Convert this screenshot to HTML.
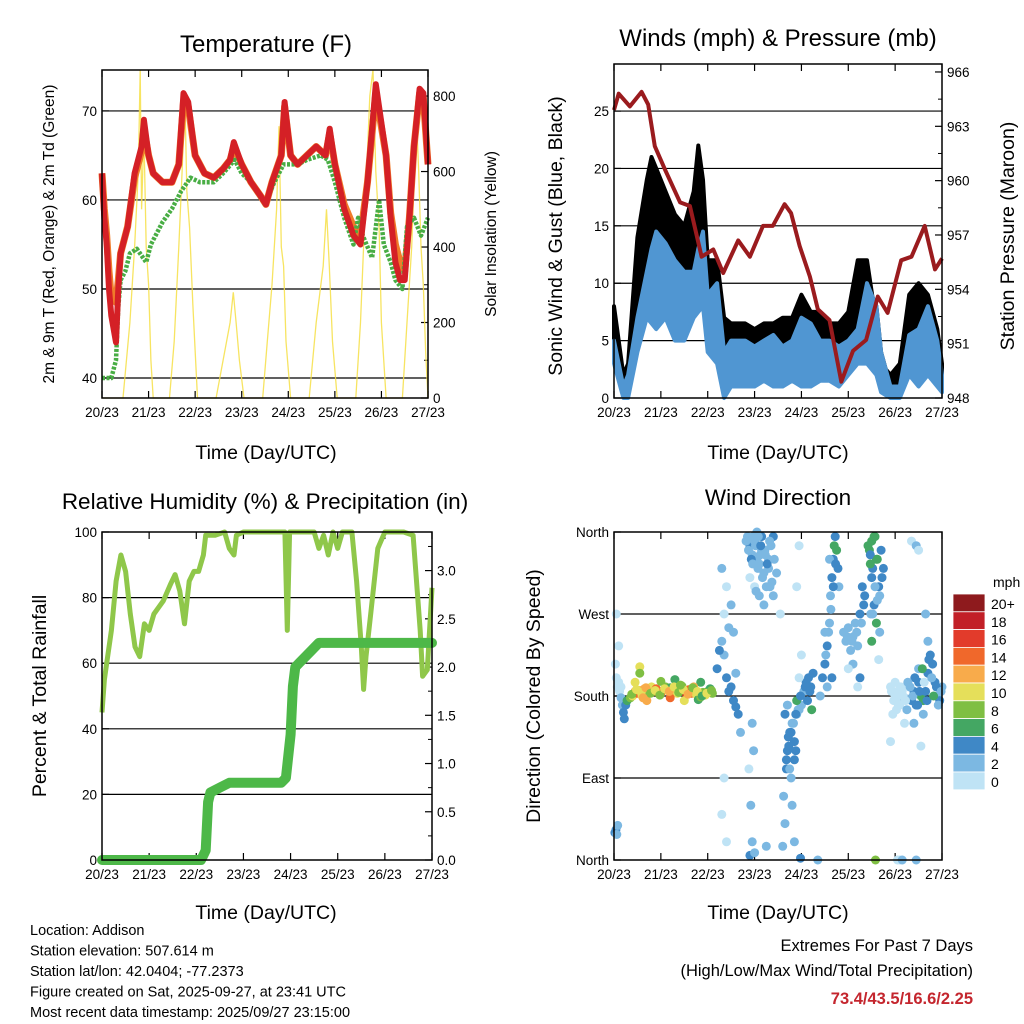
<!DOCTYPE html>
<html><head><meta charset="utf-8"><style>
body{margin:0;background:#fff;}
svg{display:block;font-family:"Liberation Sans",sans-serif;}
</style></head><body>
<svg id="s" width="1024" height="1024" viewBox="0 0 1024 1024"></svg>
<script>
// ---------- DATA ----------
const dayTicks=["20/23","21/23","22/23","23/23","24/23","25/23","26/23","27/23"];
const tempDays=[0,0.05,0.1,0.15,0.2,0.3,0.35,0.4,0.55,0.7,0.85,0.9,1.0,1.1,1.3,1.5,1.65,1.75,1.85,2.0,2.2,2.4,2.6,2.75,2.83,3.0,3.2,3.4,3.52,3.65,3.85,3.92,4.05,4.2,4.4,4.6,4.8,4.89,5.0,5.2,5.4,5.55,5.7,5.8,5.88,6.1,6.2,6.3,6.4,6.5,6.6,6.7,6.82,6.9,7.0];
const tempRed=[63,58,55,50,47,44,50,54,57,63,66,69,65,63,62,62,64,72,71,65,63,62.5,63.5,64.5,66.5,64,62,60.5,59.5,62,65,71,65,64,65,66,65,68,64,59,56,55,62,68,73,65,58,53,51,51,58,66,72.5,72,64];
const tempOrange=[63,59,56,52,49,48.5,51,54,57,62.5,65.5,68,65,63,62,62,64,71,70.5,65,63,62.5,63.5,64.5,66,64,62,60.5,59.5,62,65,70.5,65,64,65,66,65,67.5,64,59.5,57,56,62,67.5,72,65,58.5,55,53,52,58,66,72,71.5,64];
const dewDays=[0,0.2,0.3,0.35,0.4,0.5,0.6,0.75,0.95,1.05,1.3,1.5,1.7,1.9,2.1,2.4,2.6,2.85,3.0,3.2,3.5,3.7,3.9,4.2,4.4,4.7,4.85,5.0,5.2,5.4,5.5,5.6,5.8,5.95,6.05,6.2,6.3,6.45,6.55,6.7,6.85,7.0];
const dewVals=[40,40,42,48,51,52,54,54.5,53,55,57.5,59,61,62.5,62,62,63,64.5,63,62,59.5,62,64,64,64.5,65,64.5,62,58,55,58,56,53.5,60,55,53,51,50,57,58,56,58];
const solarDays=[0,0.1,0.45,0.6,0.7,0.78,0.82,0.85,0.9,0.95,1.0,1.05,1.1,1.45,1.55,1.65,1.72,1.78,1.82,1.88,1.95,2.05,2.45,2.6,2.75,2.82,2.88,2.95,3.05,3.45,3.55,3.65,3.75,3.8,3.85,3.9,3.95,4.05,4.45,4.6,4.75,4.82,4.88,4.95,5.05,5.45,5.55,5.65,5.75,5.82,5.88,5.95,6.0,6.1,6.45,6.55,6.65,6.75,6.8,6.85,6.9,6.95,7.0];
const solarVals=[0,0,0,200,400,600,870,500,700,400,300,100,0,0,150,400,600,800,550,450,250,0,0,100,200,280,200,100,0,0,150,300,500,720,400,350,150,0,0,200,350,500,350,150,0,0,200,500,800,870,600,450,200,0,0,200,400,750,600,400,300,120,0];
const presDays=[0,0.1,0.34,0.59,0.73,0.87,1.09,1.41,1.62,1.87,2.12,2.33,2.65,2.9,3.18,3.39,3.64,3.78,3.96,4.18,4.35,4.6,4.85,5.1,5.38,5.63,5.84,6.13,6.35,6.63,6.85,7.0];
const presVals=[963.9,964.8,964.1,964.9,964.2,961.9,960.6,958.8,958.6,955.8,956.2,954.9,956.7,955.8,957.5,957.5,958.7,958.2,956.4,954.7,952.9,952.3,948.9,950.6,951.2,953.6,952.7,955.6,955.8,957.5,955.1,955.7];
const windDays=[0,0.2,0.3,0.5,0.7,0.8,0.9,1.1,1.3,1.5,1.7,1.8,1.9,2.0,2.2,2.35,2.5,2.8,3.0,3.2,3.4,3.6,3.8,4.0,4.2,4.4,4.6,4.8,5.0,5.2,5.4,5.6,5.7,5.9,6.1,6.3,6.5,6.7,6.9,7.0];
const windHigh=[5,1,2,7,11,13,14.5,13.5,12,11,11,13,14.5,9,10,4,5,5,4.5,5,5.5,4.5,5,7,6.5,5,5,4.5,5,6,10,8,4,1,1,5.5,6,8,5,2];
const windLow=[3,0,0,4,7,6.5,6,7,5,5,7,7.5,8,4,3,0,1,1,1,1.5,1,1,1.5,1,1,1.5,1.5,1,2,3,3,2,0.5,0,0,2,1,2,1,0.5];
const gustHigh=[8,2,3,14,19,21,20,18,16,15,18,22,19,12,12,7,6.5,6.5,6,6.5,6.5,7,7,9,7.5,7.5,6.5,6.5,7.5,12,12,6.5,3,2,3,9,10,9,6,3];
const rhDays=[0,0.05,0.1,0.2,0.3,0.4,0.5,0.6,0.7,0.8,0.9,1.0,1.1,1.2,1.3,1.45,1.55,1.65,1.75,1.85,1.95,2.05,2.15,2.2,2.4,2.6,2.7,2.8,2.85,3.0,3.5,3.88,3.93,3.98,4.5,4.6,4.7,4.8,4.9,5.0,5.1,5.3,5.4,5.5,5.55,5.6,5.7,5.85,6.0,6.4,6.6,6.75,6.8,6.9,7.0];
const rhVals=[45,55,60,70,85,93,88,75,65,62,72,70,75,77,79,84,87,82,72,85,88,88,93,99,99,100,95,93,99,100,100,100,70,100,100,95,99,93,100,95,100,100,85,65,52,62,75,95,100,100,99,70,56,58,83];
const rainDays=[0,2.1,2.15,2.2,2.25,2.3,2.5,2.7,3.8,3.9,4.0,4.05,4.1,4.2,4.4,4.6,7.0];
const rainVals=[0,0,0.05,0.1,0.6,0.7,0.75,0.8,0.8,0.85,1.3,1.8,2.0,2.05,2.15,2.25,2.25];
const dirDays=[0.02,0.04,0.06,0.08,0.03,0.05,0.07,0.1,0.12,0.15,0.18,0.2,0.22,0.25,0.28,0.1,0.05,0.15,
0.35,0.4,0.45,0.5,0.55,0.6,0.65,0.7,0.75,0.8,0.85,0.9,0.95,1.0,1.05,1.1,1.15,1.2,1.25,1.3,1.35,1.4,1.45,1.5,1.55,1.6,1.65,1.7,1.75,1.8,1.85,1.9,1.95,2.0,2.05,2.1,0.45,1.0,0.55,0.55,1.3,1.85,1.7,0.7,1.2,1.5,
2.3,2.35,2.4,2.45,2.5,2.55,2.6,2.65,2.35,2.4,2.3,2.45,2.2,2.25,2.7,2.35,2.3,2.4,2.6,2.55,2.5,
2.85,2.9,2.95,3.0,3.05,3.1,3.15,3.2,3.25,3.3,3.35,3.4,3.0,3.1,3.2,3.3,2.9,2.95,2.98,2.92,2.95,2.9,3.0,2.88,3.25,3.4,3.15,3.05,
3.6,3.65,3.62,3.68,3.7,3.72,3.75,3.8,3.85,3.9,3.95,4.0,4.05,4.1,4.15,4.2,4.25,3.85,3.75,3.8,3.65,3.7,3.9,3.95,3.85,3.9,3.95,3.98,4.22,4.0,3.55,4.35,
4.45,4.5,4.55,4.6,4.62,4.65,4.68,4.7,4.72,4.75,4.78,4.8,4.5,4.6,4.55,4.65,4.4,
4.9,4.95,5.0,5.05,5.1,5.15,5.2,5.25,5.3,5.35,5.1,5.0,5.2,5.25,
5.45,5.5,5.55,5.6,5.65,5.5,5.55,5.6,5.7,5.75,5.5,5.58,5.48,5.65,
5.9,5.95,6.0,6.05,6.1,6.15,6.2,6.25,6.0,5.95,6.1,6.3,6.2,5.9,6.05,6.1,6.15,6.45,6.35,6.45,6.5,
6.35,6.4,6.45,6.5,6.55,6.6,6.65,6.7,6.75,6.8,6.85,6.9,6.95,7.0,6.6,6.5,6.4,6.55,6.65,6.7,
0.38,0.48,0.58,0.68,0.78,0.88,0.98,1.08,1.18,1.28,1.38,1.48,1.58,1.68,1.78,1.88,1.98,2.08,0.62,1.42,
2.82,2.87,2.93,2.97,3.02,3.07,3.12,3.17,3.22,3.27,3.32,3.37,3.42,3.47,3.03,3.13,3.23,3.33,2.96,3.08,
3.68,3.73,3.78,3.83,3.88,3.93,3.78,3.88,3.98,4.08,4.13,4.18,
5.42,5.47,5.52,5.57,5.62,5.67,5.72,5.52,5.57,5.62,5.47,5.67,
6.32,6.38,6.42,6.48,6.52,6.58,6.62,6.68,6.72,6.78,6.82,6.88,6.92,6.98,
5.92,5.97,6.02,6.07,6.12,6.17,6.22,6.27,6.03,6.13,
4.52,4.58,4.63,4.68,4.73,4.98,5.08,5.18,5.28,5.33];
const dirVals=[30,33,28,38,215,200,190,195,185,178,170,162,155,170,175,235,270,190,
178,180,185,183,186,180,188,182,184,190,185,188,184,183,186,190,186,189,185,190,183,186,191,185,182,187,183,186,182,176,179,184,181,185,188,183,195,196,212,205,198,195,190,175,178,175,
240,225,200,185,190,175,168,160,270,300,320,255,210,230,140,90,50,20,205,250,280,
355,345,335,350,330,325,340,315,300,320,345,355,300,290,280,330,310,150,120,60,20,5,8,100,15,290,355,360,
15,40,70,100,120,135,140,150,130,160,165,170,185,195,200,190,205,110,100,60,160,170,175,200,20,300,345,2,165,225,270,0,
200,215,235,260,290,310,330,345,355,340,320,300,250,330,190,200,180,
250,240,255,230,245,260,235,270,300,290,215,210,190,200,
340,350,355,330,300,310,280,260,340,320,240,0,270,220,
190,185,180,175,170,185,178,165,195,160,190,190,150,130,0,0,0,0,350,345,340,
175,185,170,195,180,175,185,205,225,215,195,180,175,190,160,210,150,125,270,240,
182,187,184,189,183,186,181,188,185,190,184,187,182,189,185,180,183,186,178,192,
350,340,330,355,345,320,335,310,340,325,350,305,330,315,295,345,335,300,325,355,
110,125,140,150,120,165,90,160,180,190,175,185,
345,335,320,300,330,290,310,270,355,285,325,250,
190,180,200,170,185,210,195,175,220,200,180,190,170,185,
185,175,180,170,190,180,175,195,165,185,
225,250,275,300,325,245,240,250,260,280];
const dirSpeeds=[4,4,3,2,1,1,1,1,1,2,3,4,4,5,6,1,1,1,
8,10,12,14,13,11,12,10,9,11,12,14,13,12,15,9,10,7,10,8,11,10,9,12,16,15,17,14,10,6,9,8,10,9,7,9,10,8,10,8,6,7,13,12,14,11,
2,3,4,4,5,4,4,4,1,1,2,3,4,4,2,1,1,0,3,2,2,
2,4,3,2,2,3,2,2,2,3,3,4,1,2,2,2,1,2,3,2,3,4,3,1,2,3,4,3,
2,3,2,4,4,5,4,3,4,3,2,2,3,4,4,5,4,5,2,2,4,3,7,1,2,1,1,5,6,1,1,3,
5,4,4,3,3,4,5,6,4,6,4,2,2,3,3,4,3,
2,3,2,2,2,3,2,4,4,4,2,1,1,4,
6,6,7,6,4,4,4,6,4,4,6,8,2,1,
1,0,1,1,1,1,2,3,1,1,1,1,1,1,1,1,2,3,1,2,1,
4,5,4,4,6,6,4,4,4,5,4,3,4,2,2,3,2,1,2,2,
9,11,10,12,8,10,9,11,13,10,8,11,12,9,10,7,10,8,13,9,
3,2,4,2,3,2,3,2,3,4,2,3,2,2,3,4,3,2,3,2,
4,5,4,3,4,3,2,4,5,4,5,4,
6,4,4,2,6,2,4,2,7,3,6,2,
3,2,4,5,4,6,1,5,4,3,6,4,2,3,
1,1,0,1,1,0,1,2,1,1,
3,2,2,4,4,2,2,2,3,4];
const cbLabels=["20+","18","16","14","12","10","8","6","4","2","0"];
const cbColors=["#8e1a1d","#c21f27","#e23b2b","#f0682b","#f8ab4b","#e5df5a","#7fbf43","#44a763","#3f88c6","#7cb8e2","#bfe3f5"];

// ---------- RENDER ----------
const S=document.getElementById('s');const NS="http://www.w3.org/2000/svg";
function el(tag,attrs,parent,text){const e=document.createElementNS(NS,tag);for(const k in attrs)e.setAttribute(k,attrs[k]);if(text!==undefined)e.textContent=text;(parent||S).appendChild(e);return e;}
function scale(d0,d1,r0,r1){return v=>r0+(v-d0)/(d1-d0)*(r1-r0);}
function pathOf(xs,ys,fx,fy){return xs.map((d,i)=>(i?'L':'M')+fx(d).toFixed(1)+','+fy(ys[i]).toFixed(1)).join('');}
function txt(x,y,s,size,anchor,name,extra){const t=el('text',Object.assign({x:x,y:y,'font-size':size,'text-anchor':anchor||'middle',fill:'#000'},extra||{}),S,s);return t;}
function rtxt(x,y,s,size,name){const t=el('text',{x:0,y:0,'font-size':size,'text-anchor':'middle',transform:`translate(${x},${y}) rotate(-90)`},S,s);return t;}

function frame(x0,x1,y0,y1,name){
  const g=el('g',{});
  const fx=scale(0,7,x0,x1);
  dayTicks.forEach((t,i)=>{const x=fx(i);
    el('line',{x1:x,x2:x,y1:y1,y2:y1-7,stroke:'#000','stroke-width':1.2},g);
    el('line',{x1:x,x2:x,y1:y0,y2:y0+7,stroke:'#000','stroke-width':1.2},g);
    const l=el('text',{x:x,y:y1+19,'font-size':13.5,'text-anchor':'middle'},g,t);
    
  });
  return {g,fx};
}
function hgrid(g,vals,fy,x0,x1){vals.forEach(v=>{const y=fy(v);el('line',{x1:x0,x2:x1,y1:y,y2:y,stroke:'#000','stroke-width':1.2},g);});}
function border(x0,x1,y0,y1,name){const r=el('rect',{x:x0,y:y0,width:x1-x0,height:y1-y0,fill:'none',stroke:'#000','stroke-width':1.5});}
function yticks(g,vals,labels,fy,x,side,minor){vals.forEach((v,i)=>{const y=fy(v);
  el('line',{x1:x,x2:x+(side<0?7:-7),y1:y,y2:y,stroke:'#000','stroke-width':1.2},g);
  const l=el('text',{x:side<0?x-5:x+5,y:y+5,'font-size':13.5,'text-anchor':side<0?'end':'start'},g,labels[i]);
  });
  (minor||[]).forEach(v=>{const y=fy(v);el('line',{x1:x,x2:x+(side<0?4:-4),y1:y,y2:y,stroke:'#000','stroke-width':1},g);});
}

// Panel 1: Temperature
(function(){
  const x0=102,x1=428,y0=70,y1=398;
  const {g,fx}=frame(x0,x1,y0,y1,'temperature');
  const fy=scale(37.75,74.6,y1,y0), fs=scale(0,869,y1,y0);
  hgrid(g,[40,50,60,70],fy,x0,x1);
  yticks(g,[40,50,60,70],["40","50","60","70"],fy,x0,-1);
  yticks(g,[0,200,400,600,800],["0","200","400","600","800"],fs,x1,1,[100,300,500,700]);
  let p=el('path',{d:pathOf(solarDays,solarVals,fx,fs),fill:'none',stroke:'#f6df45','stroke-width':1.3,opacity:0.85});
  p=el('path',{d:pathOf(tempDays,tempOrange,fx,fy),fill:'none',stroke:'#f07b2a','stroke-width':7,'stroke-linejoin':'round'});
  p=el('path',{d:pathOf(dewDays,dewVals,fx,fy),fill:'none',stroke:'#48ad44','stroke-width':4.5,'stroke-linejoin':'round','stroke-dasharray':'3 1.5'});
  p=el('path',{d:pathOf(tempDays,tempRed,fx,fy),fill:'none',stroke:'#d42026','stroke-width':6,'stroke-linejoin':'round'});
  border(x0,x1,y0,y1,'temperature');
  txt(266,52,'Temperature (F)',24,'middle','temperature-title');
  txt(266,459,'Time (Day/UTC)',19.5,'middle','temperature-x-title');
  rtxt(54,234,'2m & 9m T (Red, Orange) & 2m Td (Green)',15.5,'temperature-y-title');
  rtxt(496,234,'Solar Insolation (Yellow)',15.5,'solar-y-title');
})();

// Panel 2: Winds
(function(){
  const x0=614,x1=942,y0=64,y1=398;
  const {g,fx}=frame(x0,x1,y0,y1,'winds');
  const fy=scale(0,29.1,y1,y0), fp=scale(948,966.44,y1,y0);
  hgrid(g,[5,10,15,20,25],fy,x0,x1);
  yticks(g,[0,5,10,15,20,25],["0","5","10","15","20","25"],fy,x0,-1);
  yticks(g,[948,951,954,957,960,963,966],["948","951","954","957","960","963","966"],fp,x1,1,[949.5,952.5,955.5,958.5,961.5,964.5]);
  const gustPoly=pathOf(windDays,gustHigh,fx,fy)+windDays.slice().reverse().map((d,i)=>'L'+fx(d).toFixed(1)+','+fy(windHigh[windDays.length-1-i]).toFixed(1)).join('')+'Z';
  let p=el('path',{d:gustPoly,fill:'#000',stroke:'#000','stroke-width':4,'stroke-linejoin':'round'});
  const windPoly=pathOf(windDays,windHigh,fx,fy)+windDays.slice().reverse().map((d,i)=>'L'+fx(d).toFixed(1)+','+fy(windLow[windDays.length-1-i]).toFixed(1)).join('')+'Z';
  p=el('path',{d:windPoly,fill:'#5096d2',stroke:'#5096d2','stroke-width':4,'stroke-linejoin':'round'});
  p=el('path',{d:pathOf(presDays,presVals,fx,fp),fill:'none',stroke:'#9a1b1e','stroke-width':4,'stroke-linejoin':'round'});
  border(x0,x1,y0,y1,'winds');
  txt(778,46,'Winds (mph) & Pressure (mb)',24,'middle','winds-title');
  txt(778,459,'Time (Day/UTC)',19.5,'middle','winds-x-title');
  rtxt(562,236,'Sonic Wind & Gust (Blue, Black)',19.5,'wind-y-title');
  rtxt(1014,236,'Station Pressure (Maroon)',19.5,'pressure-y-title');
})();

// Panel 3: RH & Precip
(function(){
  const x0=102,x1=432,y0=532,y1=860;
  const {g,fx}=frame(x0,x1,y0,y1,'humidity');
  const fy=scale(0,100,y1,y0), fr=scale(0,3.4,y1,y0);
  hgrid(g,[20,40,60,80],fy,x0,x1);
  yticks(g,[0,20,40,60,80,100],["0","20","40","60","80","100"],fy,x0,-1);
  yticks(g,[0,0.5,1,1.5,2,2.5,3],["0.0","0.5","1.0","1.5","2.0","2.5","3.0"],fr,x1,1,[0.25,0.75,1.25,1.75,2.25,2.75,3.25]);
  let p=el('path',{d:pathOf(rhDays,rhVals,fx,fy),fill:'none',stroke:'#8fc74a','stroke-width':5,'stroke-linejoin':'round'});
  p=el('path',{d:pathOf(rainDays,rainVals,fx,fr),fill:'none',stroke:'#4db848','stroke-width':10,'stroke-linejoin':'round','stroke-linecap':'round'});
  border(x0,x1,y0,y1,'humidity');
  txt(265,509,'Relative Humidity (%) & Precipitation (in)',22.5,'middle','humidity-title');
  txt(266,919,'Time (Day/UTC)',19.5,'middle','humidity-x-title');
  rtxt(46,696,'Percent & Total Rainfall',19.5,'humidity-y-title');
})();

// Panel 4: Wind direction
(function(){
  const x0=614,x1=942,y0=532,y1=860;
  const {g,fx}=frame(x0,x1,y0,y1,'direction');
  const fy=scale(0,360,y1,y0);
  hgrid(g,[90,180,270],fy,x0,x1);
  yticks(g,[0,90,180,270,360],["North","East","South","West","North"],fy,x0,-1);
  const dg=el('g',{});
  dirDays.forEach((d,i)=>{const s=dirSpeeds[i];const bin=Math.min(10,Math.floor(s/2));
    const c=el('circle',{cx:fx(d).toFixed(1),cy:fy(dirVals[i]).toFixed(1),r:4.5,fill:cbColors[10-bin]},dg);
    
    });
  border(x0,x1,y0,y1,'direction');
  txt(778,505,'Wind Direction',22.5,'middle','direction-title');
  txt(778,919,'Time (Day/UTC)',19.5,'middle','direction-x-title');
  rtxt(540,696,'Direction (Colored By Speed)',19.5,'direction-y-title');
  const cb=el('g',{});
  cbLabels.forEach((l,i)=>{const y=594+i*17.8;
    el('rect',{x:953,y:y,width:32,height:17.8,fill:cbColors[i],stroke:'#fff','stroke-width':0.8},cb);
    const t=el('text',{x:991,y:y+15,'font-size':14},cb,l);});
  txt(993,587,'mph',14,'start','colorbar-unit');
})();

// Footer text
const info=["Location: Addison","Station elevation: 507.614 m","Station lat/lon: 42.0404; -77.2373","Figure created on Sat, 2025-09-27, at 23:41 UTC","Most recent data timestamp: 2025/09/27 23:15:00"];
info.forEach((s,i)=>txt(30,935+i*20.5,s,14.5,'start','station-info-line'));
txt(973,951,'Extremes For Past 7 Days',16.5,'end','extremes-title');
txt(973,976,'(High/Low/Max Wind/Total Precipitation)',16.5,'end','extremes-subtitle');
txt(973,1004,'73.4/43.5/16.6/2.25',16.5,'end','extremes-values',{fill:'#c4262e','font-weight':'bold'});
</script>
</body></html>
